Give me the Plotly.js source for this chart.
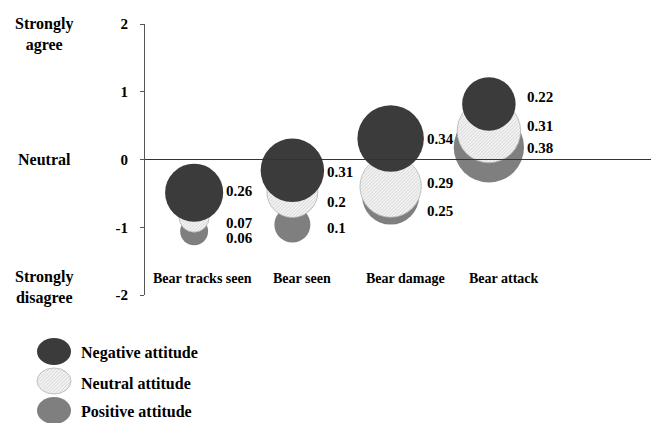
<!DOCTYPE html>
<html>
<head>
<meta charset="utf-8">
<script src="https://cdn.plot.ly/plotly-3.0.1.min.js"></script>
<style>html,body{margin:0;padding:0;background:#fff;}#chart{width:654px;height:423px;}</style>
</head>
<body>
<div id="chart"></div>
<script>
// ---- data ----
var categories = ['Bear tracks seen', 'Bear seen', 'Bear damage', 'Bear attack'];
var seriesNames = ['Negative attitude', 'Neutral attitude', 'Positive attitude'];
// mean position on the agree/disagree scale (-2..2)
var negativeY = [-0.49, -0.16, 0.31, 0.82];
var neutralY  = [-0.85, -0.48, -0.40, 0.42];
var positiveY = [-1.06, -0.96, -0.54, 0.18];
// proportions (bubble size and label)
var negativeP = [0.26, 0.31, 0.34, 0.22];
var neutralP  = [0.07, 0.2, 0.29, 0.31];
var positiveP = [0.06, 0.1, 0.25, 0.38];
var yTickVals = [-2, -1, 0, 1, 2];
var scaleLabels = ['Strongly<br>agree', 'Neutral', 'Strongly<br>disagree'];
var scaleLabelY = [1.85, 0, -1.89];

// ---- styles ----
var FONT = 'Liberation Serif, Times New Roman, serif';
var colNeg = '#3b3b3b', colNeu = '#e2e2e2', colPos = '#7f7f7f';
var SIZEREF = 2 / 12996;
var M = {l: 145, r: 3, t: 24, b: 128};
var W = 654 - M.l - M.r, H = 423 - M.t - M.b;
function px(x) { return (x - M.l) / W; }
function py(y) { return (423 - M.b - y) / H; }
function diam(v) { return Math.sqrt(2 * v / SIZEREF); }

// label vertical nudges (screen px, positive = down)
var labelNudge = {
  neg: [-2, 2, 0, -6.5],
  neu: [5.5, 10, -4, -5.5],
  pos: [7, 3, 14.5, 0.5]
};
var catLabelShift = [8, 10, 15, 15];

function bubble(name, ys, ps, color, lineColor, lineWidth) {
  return {
    type: 'scatter', mode: 'markers', name: name,
    x: categories, y: ys,
    marker: {size: ps, sizemode: 'area', sizeref: SIZEREF, color: color,
             opacity: 1, line: {color: lineColor, width: lineWidth}},
    cliponaxis: false, hoverinfo: 'skip', showlegend: false
  };
}
var traces = [
  bubble(seriesNames[2], positiveY, positiveP, colPos, colPos, 0),
  bubble(seriesNames[1], neutralY, neutralP, colNeu, '#b4b4b4', 0.8),
  bubble(seriesNames[0], negativeY, negativeP, colNeg, colNeg, 0)
];

var annotations = [];
var labFont = {family: FONT, size: 15, color: '#000', weight: 700};
var groups = [[negativeY, negativeP, 'neg'], [neutralY, neutralP, 'neu'], [positiveY, positiveP, 'pos']];
for (var i = 0; i < categories.length; i++) {
  var maxP = Math.max(negativeP[i], neutralP[i], positiveP[i]);
  var shift = diam(maxP) / 2 + 1;
  groups.forEach(function (g) {
    annotations.push({x: categories[i], y: g[0][i], xref: 'x', yref: 'y',
      text: String(g[1][i]), showarrow: false, xanchor: 'left', yanchor: 'middle',
      xshift: shift, yshift: -labelNudge[g[2]][i], font: labFont});
  });
  annotations.push({x: categories[i], y: -1.756, xref: 'x', yref: 'y',
    text: categories[i], showarrow: false, xanchor: 'center', yanchor: 'middle',
    xshift: catLabelShift[i], font: {family: FONT, size: 14, color: '#000', weight: 700}});
}
for (var k = 0; k < scaleLabels.length; k++) {
  annotations.push({x: px(44), y: scaleLabelY[k], xref: 'paper', yref: 'y',
    text: scaleLabels[k], showarrow: false, xanchor: 'center', yanchor: 'middle',
    font: {family: FONT, size: 16, color: '#000', weight: 700}});
}
// legend
var legendCols = [colNeg, colNeu, colPos];
var legendEll = [[338, 365], [368, 394], [397, 424]];
var legendTextY = [353, 383, 411];
var shapes = [{type: 'line', xref: 'paper', yref: 'y', x0: 0, x1: 1, y0: 0, y1: 0,
               line: {color: '#333', width: 1}, layer: 'above'}];
for (var j = 0; j < seriesNames.length; j++) {
  shapes.push({type: 'circle', xref: 'paper', yref: 'paper',
    x0: px(37), x1: px(71), y0: py(legendEll[j][1]), y1: py(legendEll[j][0]),
    fillcolor: legendCols[j], line: {color: j === 1 ? '#b4b4b4' : legendCols[j], width: j === 1 ? 0.8 : 0},
    layer: 'above'});
  annotations.push({x: px(79), y: py(legendTextY[j]), xref: 'paper', yref: 'paper',
    text: seriesNames[j], showarrow: false, xanchor: 'left', yanchor: 'middle',
    font: {family: FONT, size: 16, color: '#000', weight: 700}});
}

var layout = {
  width: 654, height: 423, margin: M,
  paper_bgcolor: '#fff', plot_bgcolor: '#fff', showlegend: false,
  xaxis: {type: 'category', categoryarray: categories, range: [-0.5, 4.65],
          showgrid: false, zeroline: false, showline: false, showticklabels: false, ticks: ''},
  yaxis: {range: [-2, 2], tickvals: yTickVals, ticktext: yTickVals.map(String),
          showgrid: false, zeroline: false, showline: true, linecolor: '#555', linewidth: 1,
          ticks: 'outside', ticklen: 4, tickcolor: '#555', ticklabelstandoff: 9,
          tickfont: {family: FONT, size: 15, color: '#000', weight: 700}},
  annotations: annotations, shapes: shapes
};

Plotly.newPlot('chart', traces, layout, {staticPlot: true}).then(function (gd) {
  // fine light diagonal hatching for the neutral bubbles, as in the reference
  var NS = 'http://www.w3.org/2000/svg';
  var svg = gd.querySelector('svg.main-svg');
  var defs = svg.querySelector('defs') || svg.insertBefore(document.createElementNS(NS, 'defs'), svg.firstChild);
  var pat = document.createElementNS(NS, 'pattern');
  pat.setAttribute('id', 'hatchNeu');
  pat.setAttribute('patternUnits', 'userSpaceOnUse');
  pat.setAttribute('width', '2.4'); pat.setAttribute('height', '2.4');
  pat.setAttribute('patternTransform', 'rotate(45)');
  var r = document.createElementNS(NS, 'rect');
  r.setAttribute('width', '2.4'); r.setAttribute('height', '2.4'); r.setAttribute('fill', '#f2f2f2');
  var l = document.createElementNS(NS, 'line');
  l.setAttribute('x1', '0'); l.setAttribute('y1', '0'); l.setAttribute('x2', '0'); l.setAttribute('y2', '2.4');
  l.setAttribute('stroke', '#c6c6c6'); l.setAttribute('stroke-width', '0.9');
  pat.appendChild(r); pat.appendChild(l); defs.appendChild(pat);
  var tr = gd.querySelectorAll('.scatterlayer .trace')[1];
  if (tr) tr.querySelectorAll('path.point').forEach(function (p) { p.style.fill = 'url(#hatchNeu)'; });
  var sh = gd.querySelectorAll('.shapelayer path[data-index="2"]');
  sh.forEach(function (p) { p.style.fill = 'url(#hatchNeu)'; p.style.fillOpacity = 1; });
});
</script>
</body>
</html>
